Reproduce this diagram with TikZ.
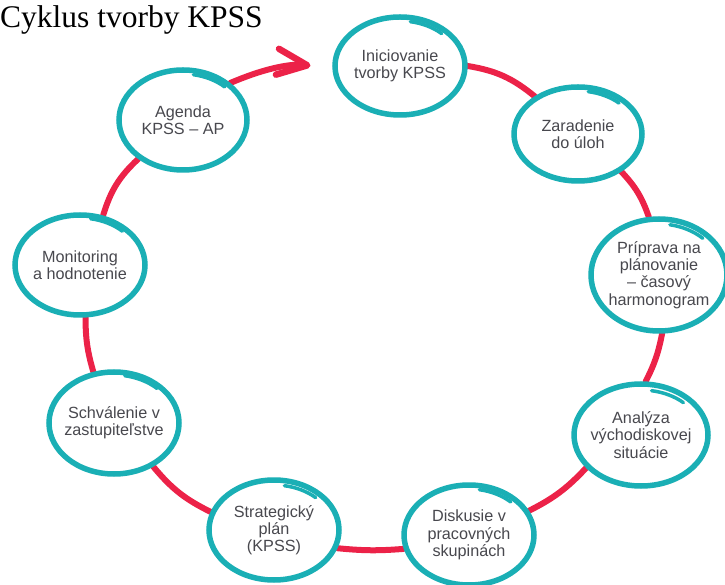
\documentclass[tikz,border=0pt]{standalone}
\usepackage{fontspec}
\setmainfont{Liberation Serif}
\setsansfont{Liberation Sans}
\usetikzlibrary{shapes.geometric,arrows.meta}
\definecolor{cteal}{RGB}{26,175,181}
\definecolor{cred}{RGB}{236,34,72}
\definecolor{ctext}{RGB}{72,72,78}
\pgfdeclarelayer{bg}
\pgfsetlayers{bg,main}
\tikzset{
  stage/.style={ellipse, draw=cteal, line width=5.5pt, inner sep=-14pt, align=center,
    font=\sffamily\fontsize{16.2}{17.2}\selectfont, text=ctext},
  link/.style={draw=cred, line width=6pt, line cap=round},
  tailstroke/.style={draw=cteal, line width=3.5pt, line cap=round},
}
\newcommand\handtail[3]{\draw[tailstroke] (#1.center) ++(80:#2pt and #3pt) arc[start angle=80,end angle=46,x radius=#2pt,y radius=#3pt];}
\begin{document}
\begin{tikzpicture}[x=1pt,y=1pt]
\useasboundingbox (0,0) rectangle (725,584);
\node[anchor=base west, inner sep=0pt, font=\rmfamily\fontsize{31.5}{36}\selectfont] (title) at (0,556) {Cyklus tvorby KPSS};

\node[stage, minimum width=130pt, minimum height=98pt] (ini) at (400,518) {Iniciovanie\\tvorby KPSS};
\node[stage, minimum width=128pt, minimum height=94pt] (zar) at (578,450) {Zaradenie\\do úloh};
\node[stage, minimum width=136pt, minimum height=112pt] (pri) at (659,309) {Príprava na\\plánovanie\\– časový\\harmonogram};
\node[stage, minimum width=134pt, minimum height=102pt] (ana) at (641,149) {Analýza\\východiskovej\\situácie};
\node[stage, minimum width=130pt, minimum height=100pt] (dis) at (469,49) {Diskusie v\\pracovných\\skupinách};
\node[stage, minimum width=130pt, minimum height=100pt] (str) at (274,54) {Strategický\\plán\\(KPSS)};
\node[stage, minimum width=130pt, minimum height=102pt] (sch) at (114,161) {Schválenie v\\zastupiteľstve};
\node[stage, minimum width=130pt, minimum height=100pt] (mon) at (80,319) {Monitoring\\a hodnotenie};
\node[stage, minimum width=128pt, minimum height=100pt] (age) at (183,464) {Agenda\\KPSS – AP};

\handtail{ini}{60}{45}
\handtail{zar}{59}{43}
\handtail{pri}{63}{51}
\handtail{ana}{61}{45}
\handtail{dis}{60}{46}
\handtail{str}{60}{45}
\handtail{sch}{62}{48}
\handtail{mon}{61}{47}
\handtail{age}{60}{46}

\begin{pgfonlayer}{bg}
\fill[white] (0,0) rectangle (725,584);
\draw[link] (ini.0) to[bend left=15] (zar.139);
\draw[link] (zar.-41) to[bend left=12] (pri.100);
\draw[link] (pri.-87) to[bend left=8] (ana.85);
\draw[link] (ana.211) to[bend left=10] (dis.22);
\draw[link] (dis.192) to[bend left=5] (str.-16);
\draw[link] (str.164) to[bend left=12] (sch.-48);
\draw[link] (sch.112) to[bend left=8] (mon.-84);
\draw[link] (mon.65) to[bend left=15] (age.221);
\draw[link, line join=round, shorten >=22pt, -{Straight Barb[length=30pt,width=26pt,line width=6.5pt,line cap=round,line join=round]}] (age.38) to[bend left=15] (ini.182);
\end{pgfonlayer}
\end{tikzpicture}
\end{document}
